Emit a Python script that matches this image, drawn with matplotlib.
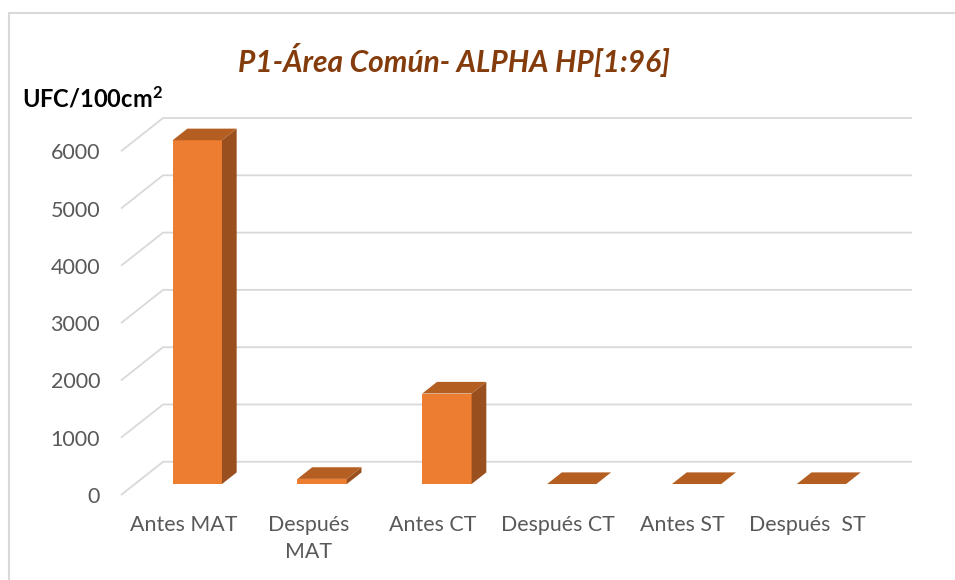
import matplotlib
matplotlib.use("Agg")
import matplotlib.pyplot as plt
import matplotlib.patches as patches
from matplotlib.patches import Polygon

# datos del grafico
categorias = ["Antes MAT", "Después\nMAT", "Antes CT", "Después CT", "Antes ST", "Después  ST"]
valores = [6000, 90, 1580, 0, 0, 0]
ticks_y = [0, 1000, 2000, 3000, 4000, 5000, 6000]

# profundidad del "3D" (en unidades de categoria y de valor)
DX = 0.337
DY = 580
ancho = 0.395
f0 = 0.33   # posicion de la cara frontal de la barra dentro del fondo
f1 = 0.68   # posicion de la cara trasera

c_frente = '#ED7D31'
c_lado = '#9A4F1F'
c_arriba = '#B45E22'
c_grid = '#D9D9D9'
c_texto = '#595959'
fuente = 'Lato'

plt.rcParams['mathtext.fontset'] = 'custom'
plt.rcParams['mathtext.rm'] = 'Lato'
plt.rcParams['mathtext.bf'] = 'Lato:bold'

fig = plt.figure(figsize=(9.55, 5.8), dpi=100)
ax = fig.add_axes([121/955, 85/580, 791/955, 377/580])
ax.set_xlim(-0.5, 5.5 + DX)
ax.set_ylim(0, 6000 + DY)

# lineas de la cuadricula (diagonal del piso + pared del fondo)
for v in ticks_y:
    ax.plot([-0.5, -0.5 + DX, 5.5 + DX], [v, v + DY, v + DY],
            color=c_grid, lw=1.3, zorder=1, clip_on=False, solid_capstyle='butt')

# barras en perspectiva
for i, v in enumerate(valores):
    x0 = i - ancho / 2 + f0 * DX
    x1 = i + ancho / 2 + f0 * DX
    y0 = f0 * DY
    ddx = (f1 - f0) * DX
    ddy = (f1 - f0) * DY
    frente = Polygon([(x0, y0), (x1, y0), (x1, y0 + v), (x0, y0 + v)],
                     closed=True, facecolor=c_frente, edgecolor='none', zorder=3)
    lado = Polygon([(x1, y0), (x1 + ddx, y0 + ddy), (x1 + ddx, y0 + ddy + v), (x1, y0 + v)],
                   closed=True, facecolor=c_lado, edgecolor='none', zorder=3)
    arriba = Polygon([(x0, y0 + v), (x1, y0 + v), (x1 + ddx, y0 + ddy + v), (x0 + ddx, y0 + ddy + v)],
                     closed=True, facecolor=c_arriba, edgecolor='none', zorder=4)
    for p in (frente, lado, arriba):
        p.set_clip_on(False)
        ax.add_patch(p)

# ejes
for s in ax.spines.values():
    s.set_visible(False)
ax.set_facecolor('none')
ax.set_yticks(ticks_y)
ax.set_yticklabels([str(t) for t in ticks_y], fontsize=15.5, color=c_texto, family=fuente)
ax.set_xticks(range(len(categorias)))
ax.set_xticklabels(categorias, fontsize=15.4, color=c_texto, family=fuente, linespacing=1.45)
ax.tick_params(axis='y', length=0, pad=15)
ax.tick_params(axis='x', length=0, pad=14.5)
for lbl in ax.get_xticklabels():
    lbl.set_verticalalignment('top')

# titulos
fig.text(454/955, 1 - 60/580, "P1-Área Común- ALPHA HP[1:96]", fontsize=21.5, color='#843C0C',
         fontweight='bold', fontstyle='italic', family=fuente, ha='center', va='center')
fig.text(22/955, 1 - 99/580, r"UFC/100cm$\mathbf{^{2}}$", fontsize=17, color='black',
         fontweight='bold', family=fuente, ha='left', va='center')

# borde del grafico
borde = patches.Rectangle((9/955, -0.1), 2, 1 - 13/580 + 0.1, transform=fig.transFigure,
                          fill=False, edgecolor=c_grid, lw=1.5)
fig.patches.append(borde)

fig.savefig('out.png', dpi=100, facecolor='white')
